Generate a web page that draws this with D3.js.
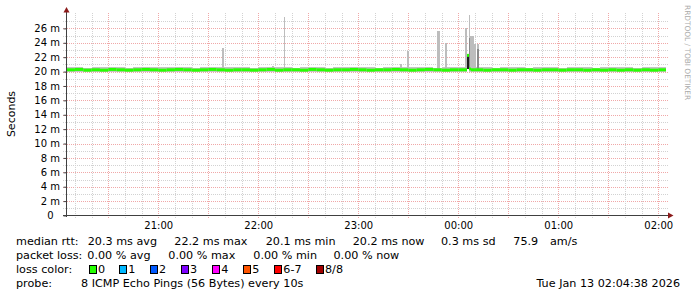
<!DOCTYPE html>
<html>
<head>
<meta charset="utf-8">
<script src="https://cdn.jsdelivr.net/npm/d3@7"></script>
<style>
body{margin:0;background:#fff;}
text{font-family:"DejaVu Sans",sans-serif;}
</style>
</head>
<body>
<script>
var width = 697, height = 297;

// median rtt per interval (ms), interval starts + final end time
var medTimes = ["20:04:38","20:10","20:15","20:20","20:25","20:30","20:35","20:40","20:45","20:50","20:55",
"21:00","21:05","21:10","21:15","21:20","21:25","21:30","21:35","21:40","21:45","21:50","21:55",
"22:00","22:05","22:10","22:15","22:20","22:25","22:30","22:35","22:40","22:45","22:50","22:55",
"23:00","23:05","23:10","23:15","23:20","23:25","23:30","23:35","23:40","23:45","23:50","23:55",
"00:00","00:05:14","00:06:26","00:07:38","00:10","00:15","00:20","00:25","00:30","00:35","00:40","00:45","00:50","00:55",
"01:00","01:05","01:10","01:15","01:20","01:25","01:30","01:35","01:40","01:45","01:50","01:55",
"02:00","02:04:38"];
var medValues = [20.25,20.3,20.2,20.25,20.2,20.3,20.25,20.2,20.25,20.3,
20.25,20.2,20.25,20.3,20.25,20.2,20.25,20.3,20.25,20.2,
20.25,20.25,20.2,20.25,20.3,20.2,20.25,20.25,20.2,20.3,
20.25,20.2,20.25,20.25,20.3,20.25,20.2,20.25,20.25,20.3,
20.25,20.2,20.25,20.3,20.25,20.2,20.25,20.25,22.25,20.35,
20.25,20.25,20.2,20.25,20.25,20.2,20.25,20.25,20.2,20.25,
20.25,20.2,20.25,20.25,20.2,20.25,20.2,20.25,20.2,20.25,
20.2,20.25,20.2,20.25];
// smoke band (lowest / highest ping) per interval
var smokeLo = [20.0,19.95,20.0,20.0,19.95,20.0,20.0,19.95,20.0,20.0,
20.0,19.95,20.0,20.0,20.0,19.95,20.0,20.0,19.95,20.0,
20.0,20.0,19.95,20.0,20.0,19.95,20.0,20.0,20.0,19.95,
20.0,19.95,20.0,20.0,20.0,20.0,19.95,20.0,20.0,20.0,
19.95,20.0,20.0,20.0,19.95,20.0,20.0,20.0,20.3,20.0,
20.0,20.0,19.95,20.0,20.0,19.95,20.0,20.0,20.0,19.95,
20.0,20.0,19.95,20.0,20.0,20.0,19.95,20.0,20.0,20.0,
19.95,20.0,20.0,19.95];
var smokeHi = [20.6,20.65,20.55,20.6,20.6,20.65,20.6,20.55,20.6,20.65,
20.6,20.6,20.65,20.7,20.6,20.55,20.6,20.65,20.6,20.6,
20.6,20.65,20.55,20.6,20.65,20.6,20.6,20.55,20.6,20.65,
20.6,20.55,20.6,20.6,20.65,20.6,20.6,20.55,20.6,20.65,
20.6,20.6,20.65,20.6,20.55,20.6,20.65,20.6,22.25,20.7,
20.6,20.6,20.6,20.55,20.6,20.6,20.6,20.55,20.6,20.6,
20.6,20.55,20.6,20.6,20.6,20.55,20.6,20.6,20.6,20.6,
20.55,20.6,20.6,20.6];

// ping spikes: start, end, top (ms), how many pings reach it (1 = only the max)
var spikeFrom  = ["21:37:56","22:08:14","22:15:20","23:25:02","23:29:14","23:47:14","23:52:02","00:04:02","00:06:26","00:06:26","00:07:02","00:09:26","00:11:14","00:11:14","00:05:14"];
var spikeTo    = ["21:39:26","22:09:26","22:16:02","23:26:14","23:30:26","23:49:02","23:53:14","00:05:14","00:07:02","00:07:38","00:09:26","00:10:38","00:12:26","00:12:26","00:06:26"];
var spikeTop   = [23.3,20.8,27.6,21.05,22.8,25.6,24.0,26.05,27.85,24.7,24.9,23.9,23.9,23.1,22.2];
var spikePings = [1,1,1,1,1,1,1,1,1,2,1,1,1,2,4];

var yTicks = [0,2,4,6,8,10,12,14,16,18,20,22,24,26];
var lossLabels = ["0","1","2","3","4","5","6-7","8/8"];
var lossColors = ["#26ff00","#00b8ff","#0059ff","#7e00ff","#ff00ff","#ff5500","#ff0000","#a10000"];
var rttStats = ["20.3 ms avg","22.2 ms max","20.1 ms min","20.2 ms now","0.3 ms sd","75.9","am/s"];
var lossStats = ["0.00 % avg","0.00 % max","0.00 % min","0.00 % now"];
var probeText = "8 ICMP Echo Pings (56 Bytes) every 10s";
var stampText = "Tue Jan 13 02:04:38 2026";

function at(s){
    var p = s.split(":").map(Number);
    var day = p[0] < 12 ? 13 : 12;
    return new Date(2026, 0, day, p[0], p[1], p[2] || 0);
}

var svg = d3.select("body")
.append("svg")
.attr("width", width)
.attr("height", height)
.attr("id","svg");

var x = d3.scaleTime()
.domain([at("20:04:38"), at("02:04:38")])
.range([66, 666]);
var y = d3.scaleLinear()
.domain([0, 28])
.range([215.5, 14]);

var grid = svg.append("g").attr("id","grid");

// horizontal grid, 1 ms minor, 2 ms major
d3.range(1, 28).forEach(function(v){
    var yy = Math.round(y(v)) + 0.5;
    grid.append("line")
    .attr("x1", 63).attr("x2", 668)
    .attr("y1", yy).attr("y2", yy)
    .attr("stroke", v % 2 ? "#d2d2d2" : "#f0a8a8")
    .attr("stroke-dasharray", "1,1");
});

// vertical grid, 10 min minor, 30 min major
d3.timeMinute.every(10).range(x.domain()[0], x.domain()[1]).forEach(function(t){
    var xx = Math.round(x(t)) + 0.5;
    grid.append("line")
    .attr("x1", xx).attr("x2", xx)
    .attr("y1", 13).attr("y2", 218)
    .attr("stroke", t.getMinutes() % 30 ? "#d2d2d2" : "#f0a8a8")
    .attr("stroke-dasharray", "1,1");
});

var plot = svg.append("g").attr("id","plot");

// smoke band
var band = medValues.map(function(v, i){
    return {t0: at(medTimes[i]), t1: at(medTimes[i+1]), lo: smokeLo[i], hi: smokeHi[i], med: v};
});
plot.selectAll(".smoke")
.data(band)
.enter().append("rect")
.attr("class","smoke")
.attr("x", function(d){ return x(d.t0); })
.attr("width", function(d){ return x(d.t1) - x(d.t0); })
.attr("y", function(d){ return y(d.hi); })
.attr("height", function(d){ return y(d.lo) - y(d.hi); })
.attr("fill", "#c4c4c4")
.attr("shape-rendering", "crispEdges");

// spikes
var shade = d3.scaleOrdinal().domain([1,2,4]).range(["#bdbdbd","#8a8a8a","#1e1e1e"]);
var spikes = spikeTop.map(function(v, i){
    return {t0: at(spikeFrom[i]), t1: at(spikeTo[i]), top: v, n: spikePings[i]};
});
plot.selectAll(".spike")
.data(spikes)
.enter().append("rect")
.attr("class","spike")
.attr("x", function(d){ return Math.round(x(d.t0)); })
.attr("width", function(d){ return Math.max(1, Math.round(x(d.t1)) - Math.round(x(d.t0))); })
.attr("y", function(d){ return y(d.top); })
.attr("height", function(d){ return y(20.35) - y(d.top); })
.attr("fill", function(d){ return shade(d.n); })
.attr("shape-rendering", "crispEdges");

// median, drawn as short dashes coloured by loss (all 0 here)
plot.selectAll(".median")
.data(band)
.enter().append("rect")
.attr("class","median")
.attr("x", function(d){ return x(d.t0); })
.attr("width", function(d){ return x(d.t1) - x(d.t0); })
.attr("y", function(d){ return y(d.med) - 1.5; })
.attr("height", 3)
.attr("fill", lossColors[0]);

// axes
var axes = svg.append("g").attr("id","axes");

var yAxis = axes.append("g")
.attr("transform","translate(66.5,0)")
.call(d3.axisLeft(y)
    .tickValues(yTicks)
    .tickSize(3)
    .tickPadding(3.5)
    .tickFormat(function(d){ return d === 0 ? "0\u00a0\u00a0" : d + " m"; }));
yAxis.select(".domain").remove();
yAxis.selectAll("line").attr("stroke","#444");
yAxis.selectAll("text").attr("font-family","DejaVu Sans").attr("font-size",10).attr("fill","#000");

var xAxis = axes.append("g")
.attr("transform","translate(0,215.5)")
.call(d3.axisBottom(x)
    .ticks(d3.timeHour.every(1))
    .tickSize(0)
    .tickPadding(6)
    .tickFormat(d3.timeFormat("%H:%M")));
xAxis.select(".domain").remove();
xAxis.selectAll("text").attr("font-family","DejaVu Sans").attr("font-size",10).attr("fill","#000");

axes.append("line")
.attr("x1",66.5).attr("x2",66.5)
.attr("y1",217).attr("y2",11)
.attr("stroke","#404040");
axes.append("line")
.attr("x1",63).attr("x2",669)
.attr("y1",215.5).attr("y2",215.5)
.attr("stroke","#404040");
axes.append("path")
.attr("d","M63.5,12.5L69.5,12.5L66.5,7Z")
.attr("fill","#8b1a1a");
axes.append("path")
.attr("d","M668,212.5L668,218.5L673.5,215.5Z")
.attr("fill","#8b1a1a");

// unit label and watermark
svg.append("text")
.attr("transform","translate(14.5,114) rotate(-90)")
.attr("text-anchor","middle")
.attr("font-size",11)
.text("Seconds");

svg.append("text")
.attr("transform","translate(684.5,5) rotate(90)")
.attr("font-size",7.4)
.attr("fill","#aaaaaa")
.text("RRDTOOL / TOBI OETIKER");

// legend
var legend = svg.append("g")
.attr("id","legend")
.attr("font-size",11.2)
.attr("fill","#000");

function put(txt, xx, yy, anchor){
    legend.append("text")
    .attr("x", xx).attr("y", yy)
    .attr("text-anchor", anchor || "start")
    .text(txt);
}

put("median rtt:", 16, 245);
[87.7,174.3,265.7,352.7,441,513.3,550].forEach(function(xx, i){ put(rttStats[i], xx, 245); });

put("packet loss:", 16, 259);
[87.3,168.3,253.3,333.5].forEach(function(xx, i){ put(lossStats[i], xx, 259); });

put("loss color:", 16, 273);
var swatchX = [89,119.3,150,181,212.3,243.3,274.3,316];
lossLabels.forEach(function(lbl, i){
    legend.append("rect")
    .attr("x", Math.round(swatchX[i]) + 0.5)
    .attr("y", 265.5)
    .attr("width", 7)
    .attr("height", 8)
    .attr("fill", lossColors[i])
    .attr("stroke", "#000");
    put(lbl, swatchX[i] + 9, 273);
});

put("probe:", 16, 287);
put(probeText, 81, 287);
put(stampText, 680, 287, "end");
</script>
</body>
</html>
